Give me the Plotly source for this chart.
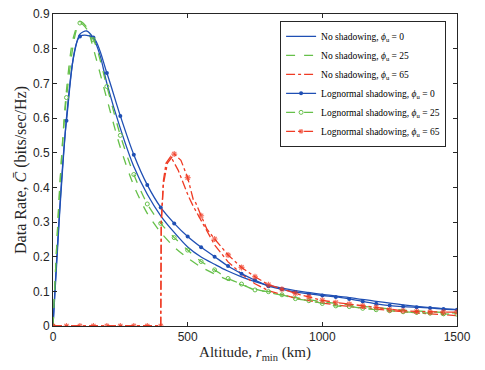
import plotly.graph_objects as go

# Altitude grids (km)
alt_marked = list(range(0, 1501, 50))
alt_blue_ns = [0, 25, 50, 75, 100, 125, 150, 175, 200, 250, 300, 350, 400, 450, 500,
               550, 600, 645, 700, 750, 800, 850, 900, 950, 1000, 1100, 1200, 1300, 1400, 1500]
alt_green_ns = [0, 25, 50, 75, 100, 125, 150, 200, 250, 300, 350, 400, 450, 500, 550,
                600, 650, 700, 750, 800, 850, 900, 950, 1000, 1100, 1200, 1300, 1400, 1500]
alt_red_ns = [0, 400, 402, 410, 420, 437, 465, 484, 503, 521, 546, 571, 600, 650, 700,
              750, 800, 900, 1000, 1100, 1200, 1300, 1400, 1500]
alt_red_ln = [0, 50, 100, 150, 200, 250, 300, 350, 400, 402, 410, 425, 450, 475, 500,
              521, 530, 550, 571, 600, 650, 700, 750, 800, 850, 900, 950, 1000, 1050,
              1100, 1150, 1200, 1250, 1300, 1350, 1400, 1450, 1500]
red_ln_marked = [a % 50 == 0 for a in alt_red_ln]

# Data rate (bits/sec/Hz), no shadowing
rate_ns_0 = [0, 0.33, 0.60, 0.77, 0.842, 0.851, 0.830, 0.780, 0.700, 0.570, 0.460, 0.380,
             0.318, 0.270, 0.228, 0.199, 0.178, 0.160, 0.142, 0.128, 0.117, 0.109, 0.102,
             0.096, 0.091, 0.082, 0.071, 0.061, 0.053, 0.047]
rate_ns_25 = [0, 0.40, 0.68, 0.83, 0.878, 0.862, 0.800, 0.655, 0.515, 0.405, 0.325, 0.270,
              0.228, 0.196, 0.170, 0.150, 0.133, 0.119, 0.107, 0.097, 0.089, 0.082, 0.076,
              0.070, 0.061, 0.053, 0.046, 0.041, 0.037]
rate_ns_65 = [0, 0, 0.30, 0.42, 0.47, 0.489, 0.449, 0.412, 0.374, 0.345, 0.310, 0.272,
              0.234, 0.185, 0.150, 0.122, 0.102, 0.080, 0.066, 0.056, 0.048, 0.041, 0.035,
              0.030]

# Data rate (bits/sec/Hz), lognormal shadowing
rate_ln_0 = [0, 0.592, 0.835, 0.832, 0.730, 0.606, 0.494, 0.407, 0.342, 0.296, 0.258, 0.227,
             0.200, 0.173, 0.151, 0.132, 0.115, 0.106, 0.098, 0.093, 0.088, 0.084, 0.078,
             0.071, 0.064, 0.059, 0.056, 0.054, 0.052, 0.049, 0.047]
rate_ln_25 = [0, 0.659, 0.874, 0.826, 0.691, 0.550, 0.437, 0.352, 0.296, 0.255, 0.219, 0.186,
              0.162, 0.137, 0.121, 0.104, 0.099, 0.090, 0.079, 0.073, 0.065, 0.058, 0.056,
              0.051, 0.047, 0.044, 0.041, 0.039, 0.037, 0.035, 0.034]
rate_ln_65 = [0, 0, 0, 0, 0, 0, 0, 0, 0, 0.30, 0.41, 0.47, 0.496, 0.478, 0.428,
              0.364, 0.355, 0.318, 0.280, 0.251, 0.205, 0.169, 0.142, 0.119, 0.106, 0.094,
              0.084, 0.074, 0.068, 0.063, 0.058, 0.054, 0.047, 0.044, 0.042, 0.040, 0.040,
              0.040]

x_ticks = [0, 500, 1000, 1500]
y_ticks = [0, 0.1, 0.2, 0.3, 0.4, 0.5, 0.6, 0.7, 0.8, 0.9]

BLUE = "#1f4fb4"
GREEN = "#66c04a"
RED = "#ef3b24"
AX = "#262626"
LW = 1.3

phi = "<i>ϕ</i><sub>u</sub>"

fig = go.Figure()
fig.add_trace(go.Scatter(x=alt_blue_ns, y=rate_ns_0, mode="lines",
                         line=dict(color=BLUE, width=LW, shape="spline", smoothing=0.8),
                         name=f"No shadowing, {phi} = 0"))
fig.add_trace(go.Scatter(x=alt_green_ns, y=rate_ns_25, mode="lines",
                         line=dict(color=GREEN, width=LW, dash="dash", shape="spline", smoothing=0.8),
                         name=f"No shadowing, {phi} = 25"))
fig.add_trace(go.Scatter(x=alt_red_ns, y=rate_ns_65, mode="lines",
                         line=dict(color=RED, width=LW, dash="dashdot"),
                         name=f"No shadowing, {phi} = 65"))
fig.add_trace(go.Scatter(x=alt_marked, y=rate_ln_0, mode="lines+markers",
                         line=dict(color=BLUE, width=LW, shape="spline", smoothing=0.8),
                         marker=dict(symbol="circle", size=4, color=BLUE),
                         name=f"Lognormal shadowing, {phi} = 0"))
fig.add_trace(go.Scatter(x=alt_marked, y=rate_ln_25, mode="lines+markers",
                         line=dict(color=GREEN, width=LW, dash="dash", shape="spline", smoothing=0.8),
                         marker=dict(symbol="circle-open", size=4, color=GREEN, line=dict(width=1)),
                         name=f"Lognormal shadowing, {phi} = 25"))
fig.add_trace(go.Scatter(x=alt_red_ln, y=rate_ln_65, mode="lines+markers",
                         line=dict(color=RED, width=LW, dash="dashdot"),
                         marker=dict(symbol="asterisk-open", color=RED,
                                     size=[5 if m else 0 for m in red_ln_marked],
                                     line=dict(width=1.2, color=RED)),
                         name=f"Lognormal shadowing, {phi} = 65"))

axis_common = dict(showline=True, linecolor=AX, linewidth=1, mirror="ticks",
                   ticks="inside", ticklen=4, tickcolor=AX, tickwidth=1,
                   showgrid=False, zeroline=False,
                   tickfont=dict(family="Liberation Sans", size=12, color=AX))

fig.update_layout(
    width=485, height=370,
    margin=dict(l=53, r=28, t=7, b=44),
    paper_bgcolor="white", plot_bgcolor="white",
    xaxis=dict(range=[0, 1500], tickvals=x_ticks, ticktext=[str(v) for v in x_ticks],
               title=dict(text="Altitude, <i>r</i><sub>min</sub> (km)", standoff=2,
                          font=dict(family="Liberation Serif", size=15, color=AX)),
               **axis_common),
    yaxis=dict(range=[0, 0.9], tickvals=y_ticks, ticktext=[f"{v:g}" for v in y_ticks],
               title=dict(text="Data Rate, <i>C̄</i> (bits/sec/Hz)", standoff=2,
                          font=dict(family="Liberation Serif", size=16, color=AX)),
               **axis_common),
    legend=dict(x=0.973, y=0.978, xanchor="right", yanchor="top",
                bgcolor="white", bordercolor=AX, borderwidth=1,
                font=dict(family="Liberation Serif", size=9.5, color="black"),
                itemwidth=30, tracegroupgap=0),
    showlegend=True,
)

fig.write_html("out.html")
